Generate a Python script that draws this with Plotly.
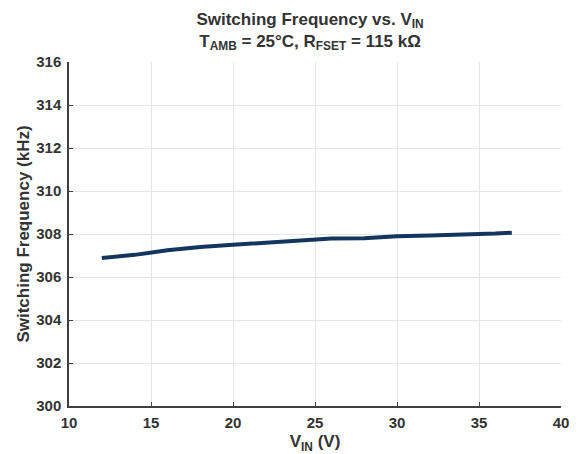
import plotly.graph_objects as go

vin = [12, 14, 16, 18, 20, 22, 24, 26, 28, 30, 32, 34, 36, 37]
freq = [306.88, 307.03, 307.24, 307.40, 307.50, 307.60, 307.72, 307.79, 307.80, 307.90, 307.93, 307.96, 308.02, 308.06]

x_ticks = [10, 15, 20, 25, 30, 35, 40]
y_ticks = [300, 302, 304, 306, 308, 310, 312, 314, 316]

font_family = "Liberation Sans, Arial, sans-serif"

fig = go.Figure()
fig.add_trace(go.Scatter(x=vin, y=freq, mode="lines",
                         line=dict(color="#14365e", width=4), showlegend=False))

fig.update_layout(
    width=573, height=446,
    margin=dict(l=61, r=20, t=54, b=48),
    paper_bgcolor="white", plot_bgcolor="white",
    font=dict(family=font_family, color="#333333", size=15),
    title=dict(
        text="<b>Switching Frequency vs. V<sub>IN</sub></b><br><b>T<sub>AMB</sub> = 25°C, R<sub>FSET</sub> = 115 kΩ</b>",
        xref="paper", x=0.49, xanchor="center",
        yref="container", y=0.963, yanchor="middle",
        font=dict(size=17, color="#333333", family=font_family),
    ),
    xaxis=dict(
        range=[10, 40], tickvals=x_ticks, ticktext=[f"<b>{v}</b>" for v in x_ticks],
        showgrid=True, gridcolor="#e6e6e6", gridwidth=1,
        showline=True, linecolor="#404040", linewidth=1.5,
        ticks="inside", ticklen=4, tickcolor="#404040",
        ticklabelstandoff=2, automargin=False,
        mirror=False, zeroline=False,
        title=dict(text="<b>V<sub>IN</sub> (V)</b>", font=dict(size=17)),
        tickfont=dict(size=15),
    ),
    yaxis=dict(
        range=[300, 316], tickvals=y_ticks, ticktext=[f"<b>{v}</b>" for v in y_ticks],
        showgrid=True, gridcolor="#e6e6e6", gridwidth=1,
        showline=True, linecolor="#404040", linewidth=1.5,
        ticks="inside", ticklen=4, tickcolor="#404040",
        ticklabelstandoff=3, automargin=True,
        zeroline=False,
        title=dict(text="<b>Switching Frequency (kHz)</b>", standoff=2, font=dict(size=17)),
        tickfont=dict(size=15),
    ),
)

fig.write_html("out.html")
